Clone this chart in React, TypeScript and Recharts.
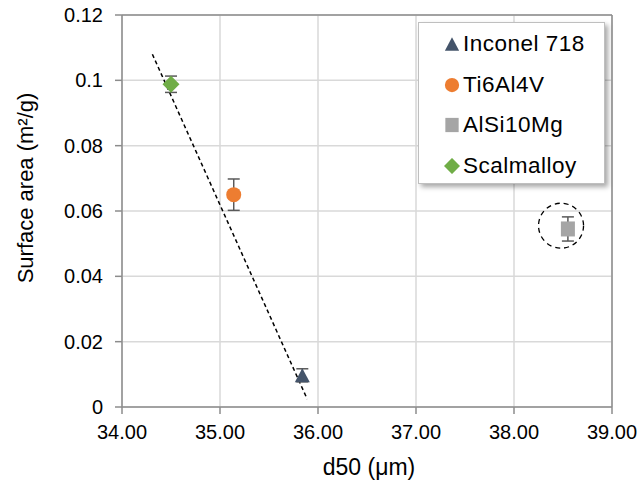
import React from 'react';
import {
  ScatterChart,
  Scatter,
  XAxis,
  YAxis,
  CartesianGrid,
  ErrorBar,
  ReferenceLine,
  ReferenceDot,
  Legend,
} from 'recharts';

// Powder data
const alloys = ['Inconel 718', 'Ti6Al4V', 'AlSi10Mg', 'Scalmalloy'];
const d50 = [35.84, 35.14, 38.55, 34.5];
const surfaceArea = [0.0097, 0.065, 0.0545, 0.0988];
const areaError = [0.002, 0.0048, 0.0037, 0.0025];

// Linear fit drawn through the three "normal" powders
const trendD50 = [34.31, 35.89];
const trendArea = [0.108, 0.0024];

// Outlier annotation circle
const outlierD50 = 38.48;
const outlierArea = 0.0555;

const xTicks = [34, 35, 36, 37, 38, 39];
const yTicks = [0, 0.02, 0.04, 0.06, 0.08, 0.1, 0.12];

const COLORS = ['#44546A', '#ED7D31', '#A5A5A5', '#70AD47'];
const SHAPES = ['triangle', 'circle', 'square', 'diamond'];

const FONT = '"Liberation Sans", Arial, sans-serif';
const AXIS_GRAY = '#8C8C8C';
const GRID_GRAY = '#D9D9D9';

const drawMarker = (kind: string, cx: number, cy: number, fill: string, s = 1) => {
  switch (kind) {
    case 'triangle': {
      const w = 15 * s;
      const h = 14 * s;
      return (
        <polygon
          points={`${cx},${cy - h / 2} ${cx + w / 2},${cy + h / 2} ${cx - w / 2},${cy + h / 2}`}
          fill={fill}
        />
      );
    }
    case 'circle':
      return <circle cx={cx} cy={cy} r={7.5 * s} fill={fill} />;
    case 'square':
      return <rect x={cx - 7 * s} y={cy - 7.5 * s} width={14 * s} height={15 * s} fill={fill} />;
    default: {
      const r = 8.5 * s;
      return (
        <polygon
          points={`${cx},${cy - r} ${cx + r},${cy} ${cx},${cy + r} ${cx - r},${cy}`}
          fill={fill}
        />
      );
    }
  }
};

const seriesData = alloys.map((name, i) => ({
  name,
  data: [{ x: d50[i], y: surfaceArea[i], err: areaError[i] }],
}));

const trendSegment = trendD50.map((x, i) => ({ x, y: trendArea[i] }));

const LegendBox = () => (
  <div
    style={{
      width: 187,
      height: 162,
      boxSizing: 'border-box',
      background: '#fff',
      border: '1px solid #BFBFBF',
      boxShadow: '3px 3px 5px rgba(0,0,0,0.35)',
      paddingTop: 1,
      fontFamily: FONT,
      fontSize: 22.5,
      letterSpacing: 0.5,
      color: '#000',
    }}
  >
    {alloys.map((name, i) => (
      <div key={name} style={{ height: 40.5, display: 'flex', alignItems: 'center' }}>
        <svg width={16} height={16} style={{ marginLeft: 25, marginRight: 3 }}>
          {drawMarker(SHAPES[i], 8, 8, COLORS[i], 0.95)}
        </svg>
        <span style={{ whiteSpace: 'nowrap' }}>{name}</span>
      </div>
    ))}
  </div>
);

const YTitle = () => (
  <text
    x={25}
    y={188}
    transform="rotate(-90, 25, 188)"
    textAnchor="middle"
    dominantBaseline="central"
    fontFamily={FONT}
    fontSize={22}
    fill="#000"
  >
    Surface area (m²/g)
  </text>
);

const XTitle = () => (
  <text
    x={369}
    y={467}
    textAnchor="middle"
    dominantBaseline="central"
    fontFamily={FONT}
    fontSize={23}
    fill="#000"
  >
    d50 (μm)
  </text>
);

export default function App() {
  return (
    <div style={{ position: 'absolute', left: 0, top: 0, background: '#fff' }}>
      <ScatterChart
        width={640}
        height={486}
        margin={{ top: 15, right: 28, bottom: 0, left: 0 }}
      >
        <CartesianGrid stroke={GRID_GRAY} strokeWidth={1.5} />
        <XAxis
          type="number"
          dataKey="x"
          domain={[34, 39]}
          ticks={xTicks}
          tickFormatter={(v: number) => v.toFixed(2)}
          height={79}
          stroke={AXIS_GRAY}
          strokeWidth={1.5}
          tickSize={7}
          tickMargin={11}
          tick={{ fill: '#000', fontSize: 20, fontFamily: FONT }}
          label={<XTitle />}
        />
        <YAxis
          type="number"
          dataKey="y"
          domain={[0, 0.12]}
          ticks={yTicks}
          tickFormatter={(v: number) => String(+v.toFixed(2))}
          width={122}
          stroke={AXIS_GRAY}
          strokeWidth={1.5}
          tickSize={7}
          tickMargin={12}
          tick={{ fill: '#000', fontSize: 20, fontFamily: FONT }}
          label={<YTitle />}
        />
        <ReferenceLine y={0.12} stroke={AXIS_GRAY} strokeWidth={1.5} />
        <ReferenceLine x={39} stroke={AXIS_GRAY} strokeWidth={1.5} />
        <ReferenceLine
          segment={trendSegment}
          stroke="#000"
          strokeWidth={1.5}
          strokeDasharray="4 3"
        />
        <ReferenceDot
          x={outlierD50}
          y={outlierArea}
          r={22.5}
          fill="none"
          stroke="#000"
          strokeWidth={1.3}
          strokeDasharray="5 4"
        />
        {seriesData.map((s, i) => (
          <Scatter
            key={s.name}
            name={s.name}
            data={s.data}
            fill={COLORS[i]}
            isAnimationActive={false}
            shape={(p: any) => drawMarker(SHAPES[i], p.cx, p.cy, COLORS[i])}
          >
            <ErrorBar
              dataKey="err"
              direction="y"
              width={6}
              stroke="#595959"
              strokeWidth={1.5}
            />
          </Scatter>
        ))}
        <Legend
          layout="vertical"
          align="center"
          verticalAlign="middle"
          wrapperStyle={{ left: 418, top: 22, width: 187 }}
          content={() => <LegendBox />}
        />
      </ScatterChart>
    </div>
  );
}
